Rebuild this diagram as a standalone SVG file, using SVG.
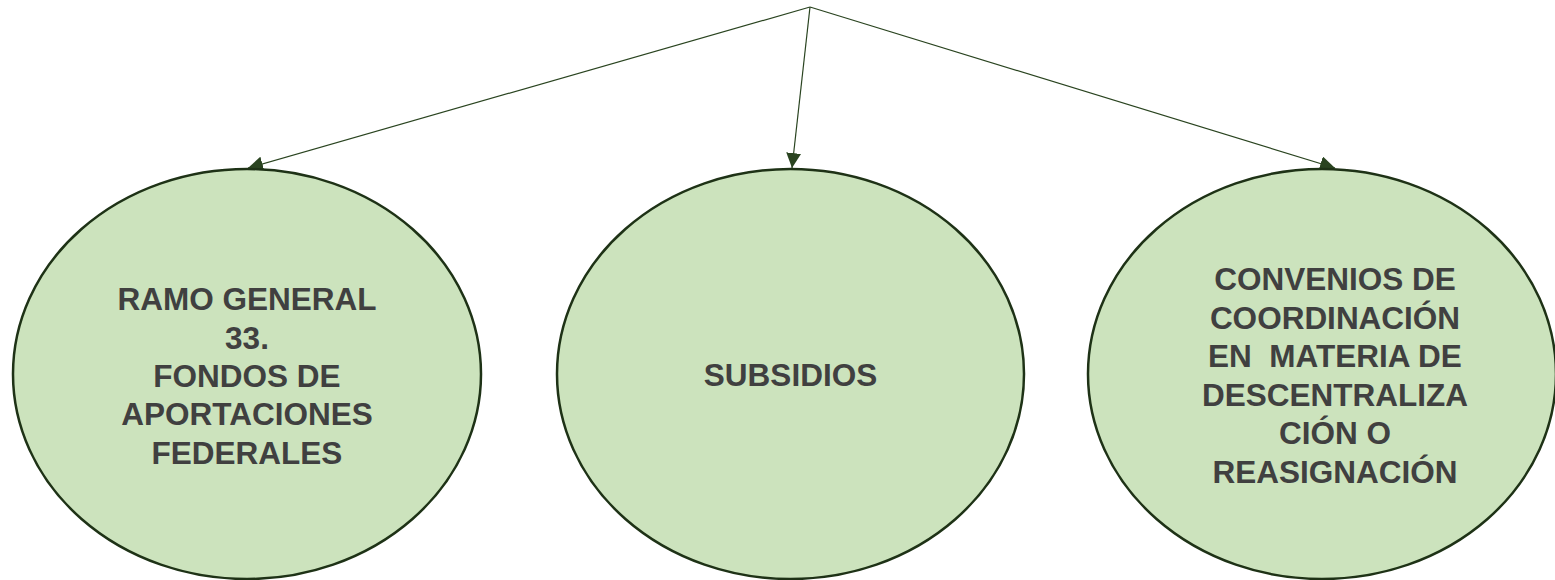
<svg xmlns="http://www.w3.org/2000/svg" width="1555" height="580" viewBox="0 0 1555 580">
<defs>
<style>
.node ellipse{fill:#cce3bd;stroke:#1e3216;stroke-width:2.5}
.node text{font-family:"Liberation Sans",Arial,sans-serif;font-weight:bold;font-size:31.5px;fill:#404040;text-anchor:middle}
.conn line{stroke:#2a4420;stroke-width:1.2;fill:none}
</style>
<marker id="ah" viewBox="0 0 10 10" refX="10" refY="5" markerWidth="15" markerHeight="15" markerUnits="userSpaceOnUse" orient="auto">
<path d="M0,0 L10,5 L0,10 Z" fill="#2a4420"/>
</marker>
</defs>
<rect width="1555" height="580" fill="#ffffff"/>
<g id="connectors" class="conn">
<line x1="810" y1="7" x2="248" y2="168" marker-end="url(#ah)"/>
<line x1="810" y1="7" x2="792" y2="168" marker-end="url(#ah)"/>
<line x1="810" y1="7" x2="1335" y2="168" marker-end="url(#ah)"/>
</g>
<g id="node-ramo" class="node">
<ellipse cx="247" cy="374" rx="234" ry="205"/>
<text x="247" y="310">RAMO GENERAL</text>
<text x="247" y="348.5">33.</text>
<text x="247" y="387">FONDOS DE</text>
<text x="247" y="425">APORTACIONES</text>
<text x="247" y="463.5">FEDERALES</text>
</g>
<g id="node-subsidios" class="node">
<ellipse cx="790.5" cy="374" rx="233.5" ry="205"/>
<text x="790.5" y="386">SUBSIDIOS</text>
</g>
<g id="node-convenios" class="node">
<ellipse cx="1322" cy="374" rx="234" ry="205"/>
<text x="1335" y="290">CONVENIOS DE</text>
<text x="1335" y="328.5">COORDINACIÓN</text>
<text x="1335" y="367" xml:space="preserve">EN  MATERIA DE</text>
<text x="1335" y="405.5">DESCENTRALIZA</text>
<text x="1335" y="444">CIÓN O</text>
<text x="1335" y="482.5">REASIGNACIÓN</text>
</g>
</svg>
